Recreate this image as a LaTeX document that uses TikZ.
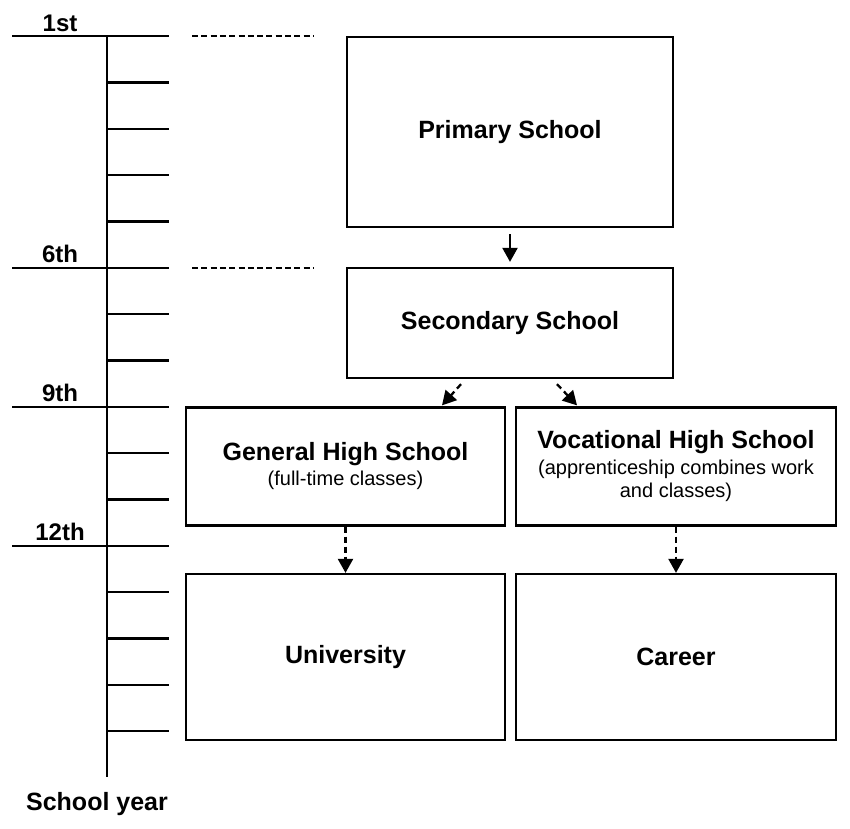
\documentclass[tikz,border=0pt]{standalone}
\usepackage{fontspec}
\setmainfont{Liberation Sans}
\usetikzlibrary{arrows.meta,positioning,calc}

\begin{document}
\begin{tikzpicture}
[x=1pt,y=-1pt,line width=2.3pt,line cap=butt,
% Styles
school box/.style={draw,inner sep=0pt,align=center,
  font=\fontsize{20}{23}\selectfont},
year label/.style={anchor=base,font=\bfseries\fontsize{24}{28}\selectfont},
link/.style={-{Triangle[length=14pt,width=15pt]}},
dashed link/.style={link,dash pattern=on 6pt off 4pt},
guide line/.style={dash pattern=on 6pt off 3.3pt}]
% Local definitions
\def\yearstep{46.35}
\newcommand{\boxtitle}[1]{{\bfseries\fontsize{25}{28}\selectfont #1}}
\useasboundingbox (0,0) rectangle (850,828);
% Time line
\draw (107,36) -- (107,777);
\foreach \k in {1,...,15}
  \draw (107,36+\yearstep*\k) -- (169,36+\yearstep*\k);
\foreach \k/\ytext in {0/1st,5/6th,8/9th,11/12th}
{
  \draw (12,36+\yearstep*\k) -- (169,36+\yearstep*\k);
  \node[year label] (year\k) at (60,31+\yearstep*\k) {\ytext};
}
\node[year label,font=\bfseries\fontsize{25}{28}\selectfont] (school year) at (97,810) {School year};
\draw[guide line] (192,36) -- (313,36);
\draw[guide line] (192,268) -- (313,268);
% The schools
\node[school box,minimum width=326pt,minimum height=190pt] (primary) at (510,132)
  {\boxtitle{Primary School}};
\node[school box,minimum width=326pt,minimum height=110pt] (secondary) at (510,323)
  {\boxtitle{Secondary School}};
\node[school box,minimum width=319pt,minimum height=118pt] (general) at (345.5,466.5)
  {\boxtitle{General High School}\\[2pt](full-time classes)};
\node[school box,minimum width=320pt,minimum height=118pt] (vocational) at (676,466.5)
  {\boxtitle{Vocational High School}\\[3pt](apprenticeship combines work\\and classes)};
\node[school box,minimum width=319pt,minimum height=166pt] (university) at (345.5,657)
  {\boxtitle{University}};
\node[school box,minimum width=320pt,minimum height=166pt] (career) at (676,657)
  {\boxtitle{Career}};
% Links
\draw[link,shorten <=6pt,shorten >=5pt] (primary) -- (secondary);
\draw[dashed link] ([xshift=-49pt,yshift=-5pt]secondary.south)
  -- ([xshift=96.5pt,yshift=1pt]general.north);
\draw[dashed link] ([xshift=47pt,yshift=-5pt]secondary.south)
  -- ([xshift=-99pt,yshift=1pt]vocational.north);
\draw[dashed link] (general) -- (university);
\draw[dashed link] (vocational) -- (career);
\end{tikzpicture}
\end{document}
